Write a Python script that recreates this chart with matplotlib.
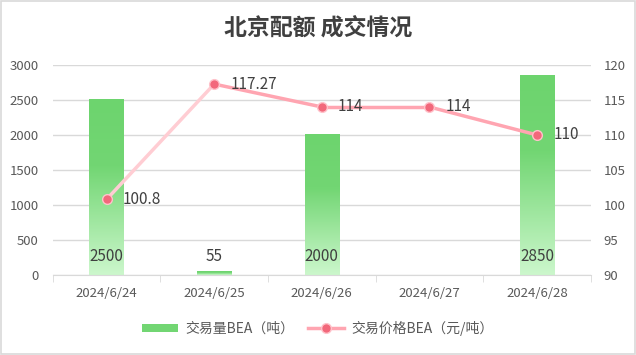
import numpy as np
import matplotlib.pyplot as plt
from matplotlib.collections import LineCollection
from matplotlib.colors import LinearSegmentedColormap
from matplotlib.patches import Patch, Rectangle
from matplotlib.lines import Line2D

plt.rcParams['font.family'] = ['Noto Sans CJK SC', 'DejaVu Sans']

dates = ['2024/6/24', '2024/6/25', '2024/6/26', '2024/6/27', '2024/6/28']
volume = [2500, 55, 2000, 0, 2850]
price = [100.8, 117.27, 114, 114, 110]
price_labels = ['100.8', '117.27', '114', '114', '110']
vol_labels = ['2500', '55', '2000', '', '2850']

fig = plt.figure(figsize=(6.36, 3.55), dpi=100)
ax = fig.add_axes([0.083, 0.2254, 0.846, 0.5916])
ax2 = ax.twinx()

x = np.arange(len(dates))
bw = 0.32

# bar gradient: dark green on top, light at the base
cmap = LinearSegmentedColormap.from_list('g', [(0, '#ccf7cc'), (0.62, '#72d673'), (1, '#6dd46e')])
grad = np.linspace(0, 1, 256).reshape(-1, 1)
for xi, v in zip(x, volume):
    if v <= 0:
        continue
    ax.imshow(grad, cmap=cmap, origin='lower', aspect='auto',
              extent=[xi - bw / 2, xi + bw / 2, 0, v], zorder=2)
for xi, lab in zip(x, vol_labels):
    if lab:
        ax.text(xi, 265, lab, ha='center', va='center', fontsize=11, color='#404040', zorder=5)

ax.set_xlim(-0.5, len(dates) - 0.5)
ax.set_ylim(0, 3000)
ax.set_yticks(range(0, 3001, 500))
ax.grid(axis='y', color='#d9d9d9', linewidth=1, zorder=0)
ax.set_axisbelow(True)
ax.set_xticks(x)
ax.set_xticklabels(dates)
ax.set_xticks(np.arange(-0.5, len(dates)), minor=True)
ax.tick_params(axis='x', which='major', length=0, pad=9, labelsize=9.5, labelcolor='#595959')
ax.tick_params(axis='x', which='minor', length=5, color='#d9d9d9')
ax.tick_params(axis='y', length=0, pad=10, labelsize=9.5, labelcolor='#595959')
for s in ['top', 'right', 'left']:
    ax.spines[s].set_visible(False)
ax.spines['bottom'].set_color('#d9d9d9')

# price line
pts = np.column_stack([x, price])
segs = [pts[i:i + 2] for i in range(len(pts) - 1)]
seg_colors = ['#ffcdd3', '#ffa5b1', '#ffa5b1', '#ffa5b1']
lc = LineCollection(segs, colors=seg_colors, linewidths=2.5, zorder=3, capstyle='round')
ax2.add_collection(lc)
ax2.plot(x, price, linestyle='none', marker='o', markersize=7,
         markerfacecolor='#f2687b', markeredgecolor='#ffc2ca', markeredgewidth=1, zorder=4)
for xi, p, lab in zip(x, price, price_labels):
    ax2.text(xi + 0.15, p, lab, ha='left', va='center', fontsize=11, color='#404040', zorder=5)
ax2.set_ylim(90, 120)
ax2.set_yticks(range(90, 121, 5))
ax2.tick_params(axis='y', length=0, pad=9, labelsize=9.5, labelcolor='#595959')
for s in ['top', 'right', 'left', 'bottom']:
    ax2.spines[s].set_visible(False)

fig.text(0.5, 0.922, '北京配额 成交情况', ha='center', va='center', fontsize=16.5,
         fontweight='bold', color='#404040')

handles = [Patch(facecolor='#72d673', edgecolor='none'),
           Line2D([0], [0], color='#ffa5b1', linewidth=2.5, marker='o', markersize=7,
                  markerfacecolor='#f2687b', markeredgecolor='#ffc2ca')]
fig.legend(handles, ['交易量BEA（吨）', '交易价格BEA（元/吨）'], loc='center',
           bbox_to_anchor=(0.5, 0.075), ncol=2, frameon=False, fontsize=10,
           labelcolor='#595959', handlelength=2.6, handleheight=0.6, columnspacing=1.0,
           handletextpad=0.5)

fig.add_artist(Rectangle((0.001, 0.002), 0.997, 0.995, transform=fig.transFigure,
                         fill=False, edgecolor='#d9d9d9', linewidth=1.2))

fig.savefig('out.png', dpi=100)
